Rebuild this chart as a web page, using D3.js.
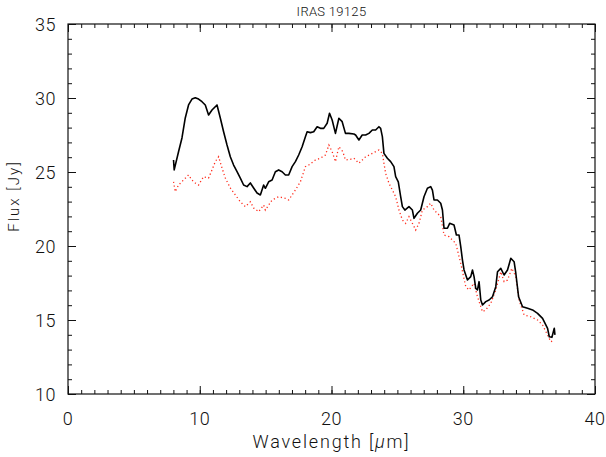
<!DOCTYPE html>
<html><head><meta charset="utf-8">
<script src="https://cdn.jsdelivr.net/npm/d3@7"></script>
<style>
body{margin:0;background:#fff;}
text{font-family:"Roboto","Liberation Sans",sans-serif;font-weight:300;fill:#111;}
</style></head>
<body><svg id="c" width="606" height="457"></svg>
<script>
const title = "IRAS 19125";
const xLabelParts = ["Wavelength [", "\u03bc", "m]"];
const yLabel = "Flux [Jy]";
const xTicks = [0,10,20,30,40];
const yTicks = [10,15,20,25,30,35];

const blackX = [8.01,8.06,8.39,8.65,8.90,9.15,9.41,9.66,9.91,10.17,10.42,10.67,10.93,11.31,11.56,11.81,12.07,12.32,12.57,12.83,13.08,13.33,13.59,13.84,14.09,14.35,14.60,14.85,14.98,15.23,15.49,15.74,15.99,16.25,16.50,16.75,17.01,17.26,17.51,17.77,18.02,18.15,18.40,18.65,18.91,19.16,19.41,19.67,19.85,20.05,20.30,20.56,20.81,21.06,21.32,21.70,21.83,22.08,22.33,22.59,22.84,23.10,23.35,23.60,23.73,23.86,23.98,24.24,24.49,24.74,24.87,25.07,25.25,25.38,25.57,25.88,26.14,26.26,26.52,26.77,27.02,27.28,27.53,27.66,27.78,28.04,28.29,28.42,28.54,28.80,28.97,29.30,29.48,29.68,29.81,29.94,30.06,30.32,30.57,30.70,30.82,30.95,31.08,31.20,31.33,31.46,31.71,31.96,32.22,32.47,32.60,32.85,33.10,33.36,33.61,33.86,33.99,34.20,34.50,34.88,35.26,35.64,36.02,36.40,36.53,36.73,36.91,36.96];
const blackY = [25.81,25.14,26.37,27.30,28.65,29.53,29.93,30.02,29.93,29.75,29.53,28.85,29.19,29.53,28.65,27.72,26.82,26.03,25.47,25.02,24.59,24.12,24.01,24.26,23.92,23.58,23.45,24.12,23.90,24.34,24.46,25.02,25.14,25.02,24.80,24.80,25.36,25.70,26.15,26.71,27.39,27.72,27.66,27.72,28.06,27.95,27.95,28.29,28.97,28.51,27.61,28.63,28.40,27.61,27.61,27.57,27.50,27.16,27.50,27.50,27.61,27.84,27.84,28.06,27.95,27.39,26.26,25.93,25.70,25.36,24.68,24.34,23.33,22.66,22.43,22.66,22.43,21.87,22.21,22.43,23.33,23.90,24.01,23.78,23.11,23.11,22.89,22.43,21.20,21.20,21.53,21.42,20.74,20.74,19.95,19.05,18.38,17.70,17.93,18.38,17.93,17.14,17.03,17.59,16.35,16.01,16.24,16.35,16.57,17.25,18.26,18.49,18.04,18.38,19.17,18.94,18.16,16.57,15.90,15.79,15.68,15.45,15.11,14.44,13.87,13.83,14.44,13.99];

const redX = [8.01,8.14,8.39,8.77,9.15,9.41,9.66,9.91,10.29,10.67,10.93,11.18,11.43,11.69,11.94,12.32,12.70,13.08,13.46,13.84,14.09,14.47,14.85,14.98,15.49,15.99,16.50,16.75,17.01,17.26,17.64,18.02,18.27,18.78,19.16,19.54,19.80,20.05,20.30,20.56,20.86,21.06,21.44,21.70,22.08,22.59,23.10,23.60,23.86,23.98,24.11,24.36,24.62,24.87,25.12,25.38,25.63,25.88,26.14,26.39,26.64,26.90,27.28,27.53,27.78,28.04,28.29,28.54,28.92,29.43,29.81,30.19,30.44,30.82,31.08,31.46,31.71,32.09,32.47,32.85,33.10,33.36,33.69,33.99,34.24,34.62,35.13,35.64,36.02,36.40,36.65,36.91];
const redY = [24.34,23.67,24.12,24.46,24.80,24.46,24.26,24.12,24.68,24.59,25.14,25.70,26.03,25.27,24.59,23.92,23.45,22.99,22.66,22.99,22.57,22.32,22.77,22.43,23.11,23.33,23.22,23.11,23.45,23.78,24.34,25.36,25.47,25.81,25.93,26.15,26.82,26.37,25.70,26.71,26.37,25.81,25.86,25.93,25.59,26.03,26.26,26.49,26.26,25.59,24.91,24.24,23.78,23.33,22.43,21.76,21.53,21.98,21.53,21.08,21.53,22.43,22.66,22.89,22.43,22.21,21.98,20.74,20.63,20.18,18.83,17.25,17.03,17.48,16.57,15.56,15.68,16.13,17.03,18.26,17.59,17.70,18.49,17.93,16.35,15.34,15.22,15.00,14.66,13.99,13.53,13.65];

const svg = d3.select("#c");
const L = 68, R = 595, T = 24, B = 394;
const x = d3.scaleLinear().domain([0,40]).range([L,R]);
const y = d3.scaleLinear().domain([10,35]).range([B,T]);

const majX = 8, minX = 4;
function tickAxis(axisFn, scale, pos, vals, len){
  const g = svg.append("g").attr("transform", pos);
  g.call(axisFn(scale).tickValues(vals).tickSize(len).tickFormat(""));
  g.select(".domain").remove();
  g.selectAll("line").attr("stroke","#111").attr("stroke-width",1);
}
const xMinor = d3.range(0,41,1), yMinor = d3.range(10,36,1);
tickAxis(d3.axisTop, x, `translate(0,${B})`, xMinor, minX);
tickAxis(d3.axisTop, x, `translate(0,${B})`, xTicks, majX);
tickAxis(d3.axisBottom, x, `translate(0,${T})`, xMinor, minX);
tickAxis(d3.axisBottom, x, `translate(0,${T})`, xTicks, majX);
tickAxis(d3.axisRight, y, `translate(${L},0)`, yMinor, minX);
tickAxis(d3.axisRight, y, `translate(${L},0)`, yTicks, majX);
tickAxis(d3.axisLeft, y, `translate(${R},0)`, yMinor, minX);
tickAxis(d3.axisLeft, y, `translate(${R},0)`, yTicks, majX);

svg.append("rect").attr("x",L).attr("y",T).attr("width",R-L).attr("height",B-T)
  .attr("fill","none").attr("stroke","#111").attr("stroke-width",1.2);

svg.append("g").selectAll("text").data(xTicks).join("text")
  .attr("x",d=>x(d)).attr("y",B+31).attr("text-anchor","middle")
  .attr("font-size",18).attr("letter-spacing",0.5).text(d=>d);
svg.append("g").selectAll("text").data(yTicks).join("text")
  .attr("x",L-12).attr("y",d=>y(d)+7).attr("text-anchor","end")
  .attr("font-size",18).attr("letter-spacing",0.5).text(d=>d);

const xl = svg.append("text").attr("x",(L+R)/2).attr("y",448).attr("text-anchor","middle")
  .attr("font-size",18).attr("letter-spacing",1.8);
xl.append("tspan").text(xLabelParts[0]);
xl.append("tspan").attr("font-style","italic").text(xLabelParts[1]);
xl.append("tspan").text(xLabelParts[2]);

svg.append("text").attr("transform",`translate(19,196) rotate(-90)`)
  .attr("text-anchor","middle").attr("font-size",15).attr("letter-spacing",2)
  .text(yLabel);
svg.append("text").attr("x",(L+R)/2).attr("y",16).attr("text-anchor","middle")
  .attr("font-size",13).attr("letter-spacing",0.3).text(title);

const line = d3.line().x(d=>x(d[0])).y(d=>y(d[1]));
svg.append("path").datum(redX.map((v,i)=>[v,redY[i]]))
  .attr("d",line).attr("fill","none").attr("stroke","#ff2a1a")
  .attr("stroke-width",1.3).attr("stroke-dasharray","1.2,2.6");
svg.append("path").datum(blackX.map((v,i)=>[v,blackY[i]]))
  .attr("d",line).attr("fill","none").attr("stroke","#000")
  .attr("stroke-width",1.6).attr("stroke-linejoin","round");
</script></body></html>
